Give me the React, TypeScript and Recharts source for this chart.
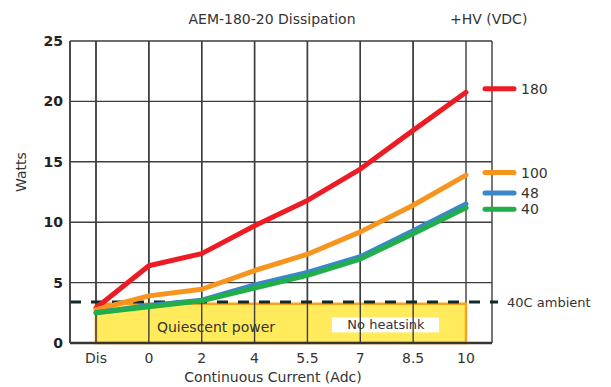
import React from 'react';
import {
  ComposedChart,
  Line,
  XAxis,
  YAxis,
  CartesianGrid,
  ReferenceArea,
  ReferenceLine,
  LabelList,
} from 'recharts';

const categories = ['Dis', '0', '2', '4', '5.5', '7', '8.5', '10'];
const v180 = [2.9, 6.4, 7.4, 9.7, 11.8, 14.4, 17.6, 20.75];
const v100 = [2.75, 3.9, 4.45, 6.0, 7.35, 9.2, 11.4, 13.9];
const v48 = [2.5, 3.1, 3.55, 4.8, 5.85, 7.15, 9.3, 11.5];
const v40 = [2.5, 3.0, 3.5, 4.55, 5.6, 6.95, 9.05, 11.2];
const yTicks = [0, 5, 10, 15, 20, 25];
const ambientLevel = 3.4;
const quiescentLevel = 3.25;

const data = categories.map((c, i) => ({
  cat: c,
  v180: v180[i],
  v100: v100[i],
  v48: v48[i],
  v40: v40[i],
}));

const series = [
  { key: 'v180', name: '180', color: '#ED1C24', dy: -3.5 },
  { key: 'v100', name: '100', color: '#F7941D', dy: -2.5 },
  { key: 'v48', name: '48', color: '#3A87C9', dy: -11 },
  { key: 'v40', name: '40', color: '#21AE4B', dy: 1.5 },
];

const FONT = '"DejaVu Sans", Verdana, sans-serif';
const TEXT = '#333333';
const GRID = '#3d3d3d';

const makeEndLabel = (color: string, name: string, dy: number) => (props: any) => {
  const { x, y, index } = props;
  if (index !== categories.length - 1) return null;
  const yy = y + dy;
  return (
    <g>
      <line x1={x + 19} x2={x + 48} y1={yy} y2={yy} stroke={color} strokeWidth={5} strokeLinecap="round" />
      <text x={x + 55} y={yy} dominantBaseline="central" fontSize={14} fill={TEXT} fontFamily={FONT}>
        {name}
      </text>
    </g>
  );
};

const AreaLabel = (props: any) => {
  const vb = props.viewBox || {};
  const { x, y, width, height } = vb;
  const cy = y + height / 2;
  return (
    <g>
      <text x={x + 120} y={cy + 4} textAnchor="middle" dominantBaseline="central" fontSize={14} fill={TEXT} fontFamily={FONT}>
        Quiescent power
      </text>
      <rect x={x + width - 134} y={cy - 6} width={107} height={15} fill="#ffffff" />
      <text x={x + width - 80} y={cy + 1.5} textAnchor="middle" dominantBaseline="central" fontSize={13} fill={TEXT} fontFamily={FONT}>
        No heatsink
      </text>
    </g>
  );
};

const DashShape = (p: any) => (
  <line x1={p.x1} y1={p.y1} x2={p.x2 + 6} y2={p.y2} stroke="#0f2a2a" strokeWidth={3} strokeDasharray="11 10" />
);

export default function App() {
  return (
    <div style={{ position: 'absolute', left: 0, top: 0, width: 611, height: 387, background: '#fff' }}>
      <ComposedChart
        width={611}
        height={387}
        data={data}
        margin={{ top: 41, right: 119, bottom: 0, left: 0 }}
        style={{ fontFamily: FONT }}
      >
        <CartesianGrid stroke={GRID} strokeWidth={1.4} />
        <ReferenceArea
          x2="10"
          y1={0}
          y2={quiescentLevel}
          fill="#FFEB5B"
          fillOpacity={1}
          stroke="#F7A21B"
          strokeWidth={2.5}
          ifOverflow="visible"
        />
        {categories.slice(0, -1).map((c) => (
          <ReferenceLine key={'g' + c} x={c} stroke={GRID} strokeWidth={1.4} />
        ))}
        <ReferenceArea
          x2="10"
          y1={0}
          y2={quiescentLevel}
          fillOpacity={0}
          stroke="none"
          ifOverflow="visible"
          label={<AreaLabel />}
        />
        <ReferenceLine
          y={ambientLevel}
          shape={DashShape}
          label={{ value: '40C ambient', position: 'right', offset: 15, fontSize: 13, fill: TEXT, fontFamily: FONT }}
        />
        <XAxis
          dataKey="cat"
          padding={{ left: 26, right: 26 }}
          height={44}
          tickLine={false}
          tickSize={0}
          tickMargin={10}
          axisLine={{ stroke: '#3a3530', strokeWidth: 2.5 }}
          tick={{ fontSize: 14, fill: TEXT, fontFamily: FONT }}
          label={{ value: 'Continuous Current (Adc)', position: 'insideBottom', offset: 5, dx: -8, fontSize: 14, fill: TEXT, fontFamily: FONT }}
        />
        <YAxis
          domain={[0, 25]}
          ticks={yTicks}
          width={70}
          tickLine={false}
          tickSize={0}
          tickMargin={7}
          axisLine={{ stroke: GRID, strokeWidth: 1.5 }}
          tick={{ fontSize: 14, fontWeight: 'bold', fill: '#222', fontFamily: FONT }}
          label={{ value: 'Watts', angle: -90, position: 'insideLeft', offset: 21, fontSize: 14, fill: TEXT, fontFamily: FONT }}
        />
        {series.map((s) => (
          <Line
            key={s.key}
            dataKey={s.key}
            name={s.name}
            type="linear"
            stroke={s.color}
            strokeWidth={5}
            strokeLinecap="round"
            strokeLinejoin="round"
            dot={false}
            activeDot={false}
            isAnimationActive={false}
          >
            <LabelList dataKey={s.key} content={makeEndLabel(s.color, s.name, s.dy)} />
          </Line>
        ))}
      </ComposedChart>
      <svg width={611} height={40} style={{ position: 'absolute', left: 0, top: 0, pointerEvents: 'none' }}>
        <text x={272} y={23.5} textAnchor="middle" fontSize={14} fill={TEXT} fontFamily={FONT}>
          AEM-180-20 Dissipation
        </text>
        <text x={450} y={23.5} textAnchor="start" fontSize={14} fill={TEXT} fontFamily={FONT}>
          +HV (VDC)
        </text>
      </svg>
    </div>
  );
}
